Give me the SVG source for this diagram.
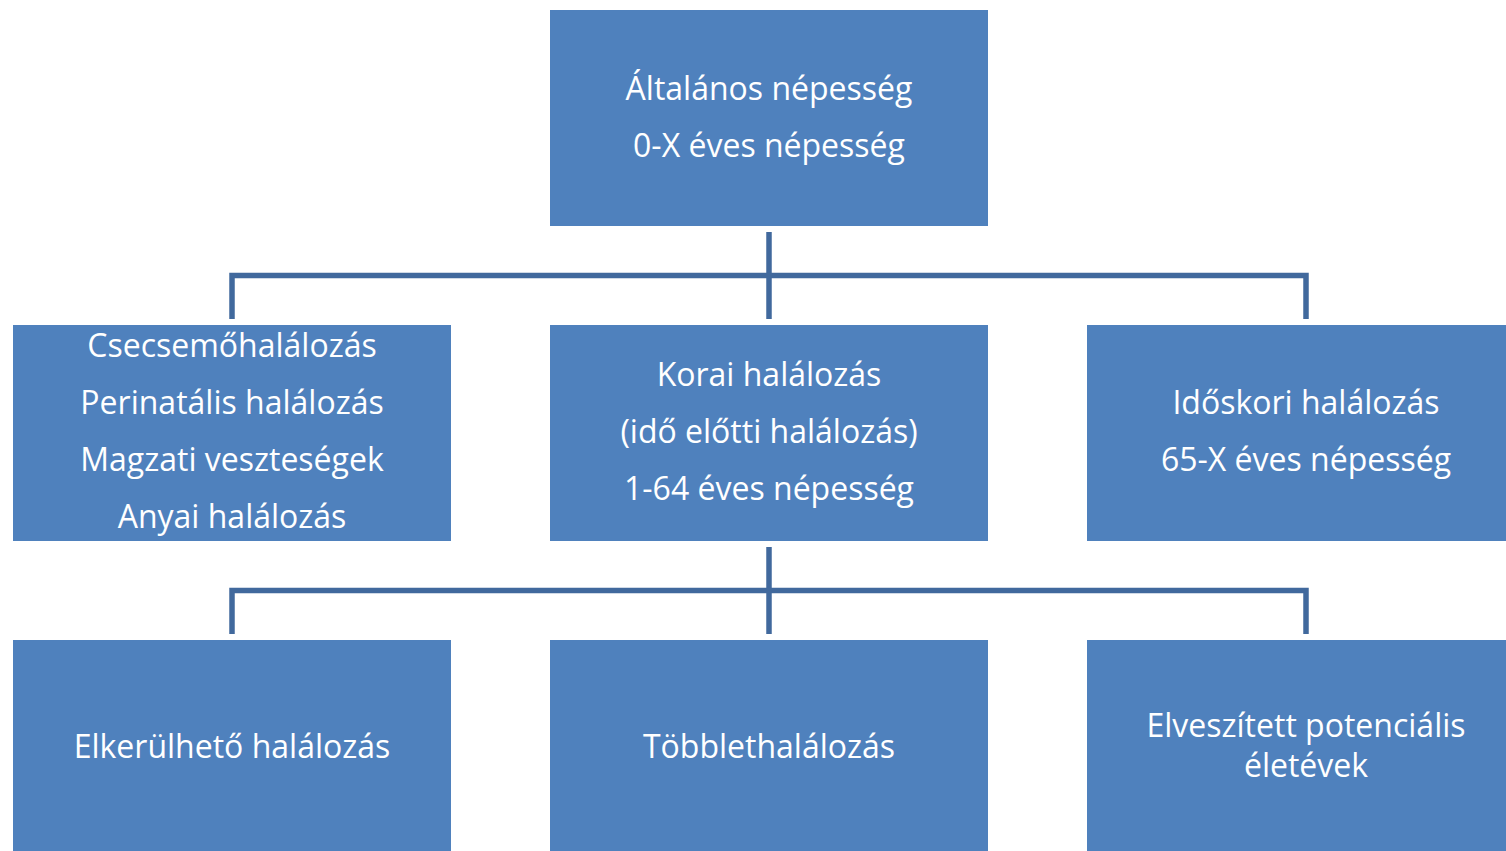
<svg xmlns="http://www.w3.org/2000/svg" width="1506" height="851" viewBox="0 0 1506 851">
<style>
.box{fill:#4f81bd}
.t{font-family:"Open Sans","Liberation Sans",sans-serif;font-size:32px;fill:#ffffff;text-anchor:middle}
.c{stroke:#41699d;stroke-width:5.5;fill:none}
</style>
<rect width="1506" height="851" fill="#ffffff"/>
<g id="connectors">
<path class="c" d="M769 232V319M232 319V275.5H1306V319"/>
<path class="c" d="M769 547V634M232 634V590.5H1306V634"/>
</g>
<g id="n-top">
<rect class="box" x="550" y="10" width="438" height="216"/>
<text class="t" x="769" y="100">Általános népesség</text>
<text class="t" x="769" y="157">0-X éves népesség</text>
</g>
<g id="n-csecsemo">
<rect class="box" x="13" y="325" width="438" height="216"/>
<text class="t" x="232" y="357">Csecsemőhalálozás</text>
<text class="t" x="232" y="414">Perinatális halálozás</text>
<text class="t" x="232" y="471">Magzati veszteségek</text>
<text class="t" x="232" y="528">Anyai halálozás</text>
</g>
<g id="n-korai">
<rect class="box" x="550" y="325" width="438" height="216"/>
<text class="t" x="769" y="386">Korai halálozás</text>
<text class="t" x="769" y="443">(idő előtti halálozás)</text>
<text class="t" x="769" y="500">1-64 éves népesség</text>
</g>
<g id="n-idoskori">
<rect class="box" x="1087" y="325" width="438" height="216"/>
<text class="t" x="1306" y="414">Időskori halálozás</text>
<text class="t" x="1306" y="471">65-X éves népesség</text>
</g>
<g id="n-elkerulheto">
<rect class="box" x="13" y="640" width="438" height="216"/>
<text class="t" x="232" y="758">Elkerülhető halálozás</text>
</g>
<g id="n-tobblet">
<rect class="box" x="550" y="640" width="438" height="216"/>
<text class="t" x="769" y="758">Többlethalálozás</text>
</g>
<g id="n-elveszitett">
<rect class="box" x="1087" y="640" width="438" height="216"/>
<text class="t" x="1306" y="737">Elveszített potenciális</text>
<text class="t" x="1306" y="777">életévek</text>
</g>
</svg>
